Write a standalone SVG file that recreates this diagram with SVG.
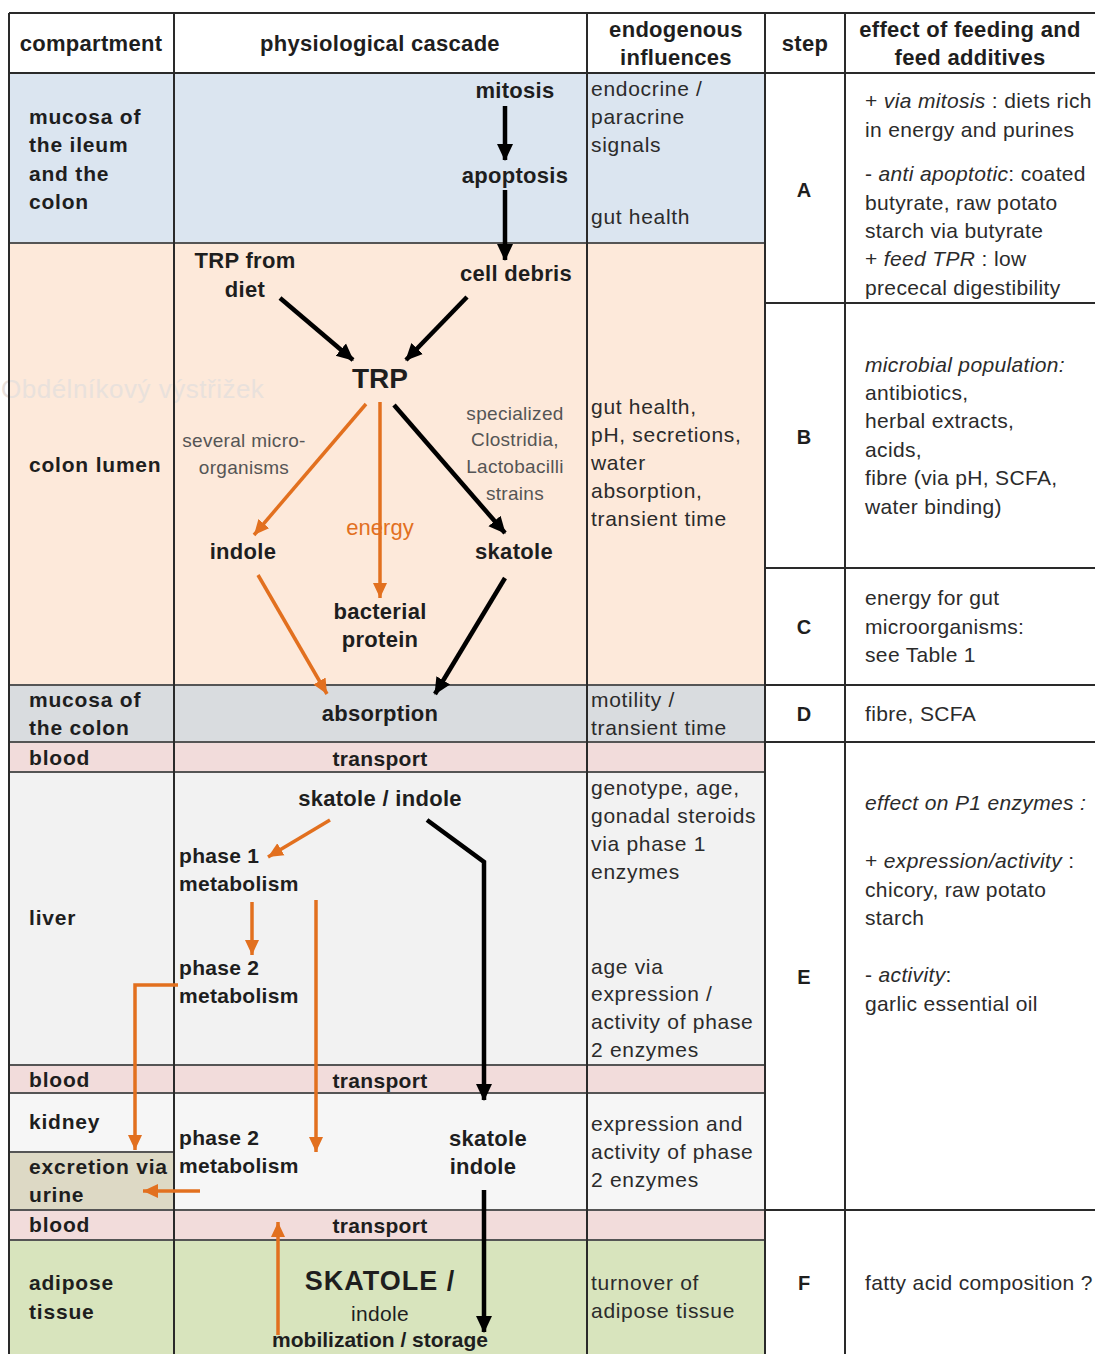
<svg xmlns="http://www.w3.org/2000/svg" width="1095" height="1354" viewBox="0 0 1095 1354">
<defs>
<style>
text{font-family:"Liberation Sans",Arial,sans-serif}
.h{font-size:22px;font-weight:bold;fill:#1e1e1e;letter-spacing:0.3px}
.c{font-size:21px;font-weight:bold;fill:#1e1e1e;letter-spacing:0.8px}
.k{font-size:22px;font-weight:bold;fill:#1e1e1e;text-anchor:middle;letter-spacing:0.3px}
.kl{font-size:21px;font-weight:bold;fill:#1e1e1e;letter-spacing:0.3px}
.g{font-size:19px;fill:#555;text-anchor:middle;letter-spacing:0.3px}
.n{font-size:21px;fill:#2b2b2b;letter-spacing:0.7px}
.f{font-size:21px;fill:#2b2b2b;letter-spacing:0.35px}
.st{font-size:20px;font-weight:bold;fill:#1e1e1e;text-anchor:middle}
.i{font-style:italic}
.grid{stroke:#2a2a2a;stroke-width:2;fill:none}
.hl{stroke:#555;stroke-width:2;fill:none}
.blk{stroke:#000;stroke-width:4.5;fill:none}
.org{stroke:#e2701f;stroke-width:3.5;fill:none}
</style>
<marker id="ab" markerUnits="userSpaceOnUse" markerWidth="18" markerHeight="18" viewBox="0 0 18 18" refX="16" refY="9" orient="auto">
<path d="M0,1 L17,9 L0,17 Z" fill="#000"/>
</marker>
<marker id="ao" markerUnits="userSpaceOnUse" markerWidth="16" markerHeight="16" viewBox="0 0 16 16" refX="15" refY="8" orient="auto">
<path d="M0,1 L15,8 L0,15 Z" fill="#e2701f"/>
</marker>
</defs>
<rect x="0" y="0" width="1095" height="1354" fill="#fff"/>

<g id="cells">
<rect x="9" y="13" width="1086" height="60" fill="#fff"/>
<rect x="9" y="73" width="756" height="170" fill="#dbe5f0"/>
<rect x="9" y="243" width="756" height="442" fill="#fde9da"/>
<rect x="9" y="685" width="756" height="57" fill="#d9dcdf"/>
<rect x="9" y="742" width="756" height="30" fill="#f2dcdb"/>
<rect x="9" y="772" width="756" height="293" fill="#f2f2f2"/>
<rect x="9" y="1065" width="756" height="28" fill="#f2dcdb"/>
<rect x="9" y="1093" width="756" height="117" fill="#f6f6f6"/>
<rect x="9" y="1152" width="165" height="58" fill="#ddd9c5"/>
<rect x="9" y="1210" width="756" height="30" fill="#f2dcdb"/>
<rect x="9" y="1240" width="756" height="114" fill="#d8e4bd"/>
</g>

<text x="1" y="398" font-size="26" fill="#e9e1dc" letter-spacing="0.5">Obdélníkový výstřižek</text>

<g id="grid">
<path class="hl" d="M9,243H765M9,685H765M9,742H765M9,772H765M9,1065H765M9,1093H765M9,1152H174M9,1210H765M9,1240H765"/>
<path class="grid" d="M9,13H1095M9,73H1095M765,303H1095M765,568H1095M765,685H1095M765,742H1095M765,1210H1095"/>
<path class="grid" d="M9,13V1354M174,13V1354M587,13V1354M765,13V1354M845,13V1354"/>
</g>

<g id="header">
<text class="h" x="91" y="51" text-anchor="middle">compartment</text>
<text class="h" x="380" y="51" text-anchor="middle">physiological cascade</text>
<text class="h" x="676" y="37" text-anchor="middle">endogenous</text>
<text class="h" x="676" y="65" text-anchor="middle">influences</text>
<text class="h" x="805" y="51" text-anchor="middle">step</text>
<text class="h" x="970" y="37" text-anchor="middle">effect of feeding and</text>
<text class="h" x="970" y="65" text-anchor="middle">feed additives</text>
</g>

<g id="compartments">
<text class="c" x="29" y="124">mucosa of</text>
<text class="c" x="29" y="152">the ileum</text>
<text class="c" x="29" y="181">and the</text>
<text class="c" x="29" y="209">colon</text>
<text class="c" x="29" y="472">colon lumen</text>
<text class="c" x="29" y="707">mucosa of</text>
<text class="c" x="29" y="735">the colon</text>
<text class="c" x="29" y="765">blood</text>
<text class="c" x="29" y="925">liver</text>
<text class="c" x="29" y="1087">blood</text>
<text class="c" x="29" y="1129">kidney</text>
<text class="c" x="29" y="1174">excretion via</text>
<text class="c" x="29" y="1202">urine</text>
<text class="c" x="29" y="1232">blood</text>
<text class="c" x="29" y="1290">adipose</text>
<text class="c" x="29" y="1319">tissue</text>
</g>

<g id="n-mitosis"><text class="k" x="515" y="98">mitosis</text></g>
<g id="n-apoptosis"><text class="k" x="515" y="183">apoptosis</text></g>
<g id="n-trpdiet"><text class="k" x="245" y="268">TRP from</text><text class="k" x="245" y="297">diet</text></g>
<g id="n-celldebris"><text class="k" x="516" y="281">cell debris</text></g>
<g id="n-trp"><text class="k" x="380" y="388" style="font-size:28px;letter-spacing:0">TRP</text></g>
<g id="n-micro"><text class="g" x="244" y="447">several micro-</text><text class="g" x="244" y="474">organisms</text></g>
<g id="n-clost"><text class="g" x="515" y="420">specialized</text><text class="g" x="515" y="446">Clostridia,</text><text class="g" x="515" y="473">Lactobacilli</text><text class="g" x="515" y="500">strains</text></g>
<g id="n-indole"><text class="k" x="243" y="559">indole</text></g>
<g id="n-skatole"><text class="k" x="514" y="559">skatole</text></g>
<g id="n-bprot"><text class="k" x="380" y="619">bacterial</text><text class="k" x="380" y="647">protein</text></g>
<g id="n-absorption"><text class="k" x="380" y="721">absorption</text></g>
<g id="n-transport1"><text class="k" x="380" y="766" style="font-size:21px">transport</text></g>
<g id="n-skind"><text class="k" x="380" y="806">skatole / indole</text></g>
<g id="n-p1"><text class="kl" x="179" y="863">phase 1</text><text class="kl" x="179" y="891">metabolism</text></g>
<g id="n-p2"><text class="kl" x="179" y="975">phase 2</text><text class="kl" x="179" y="1003">metabolism</text></g>
<g id="n-transport2"><text class="k" x="380" y="1088" style="font-size:21px">transport</text></g>
<g id="n-p2k"><text class="kl" x="179" y="1145">phase 2</text><text class="kl" x="179" y="1173">metabolism</text></g>
<g id="n-skk"><text class="k" x="488" y="1146">skatole</text><text class="k" x="483" y="1174">indole</text></g>
<g id="n-transport3"><text class="k" x="380" y="1233" style="font-size:21px">transport</text></g>
<g id="n-adipose"><text class="k" x="380" y="1290" style="font-size:27px;letter-spacing:1px">SKATOLE /</text><text class="k" x="380" y="1321" style="font-weight:normal;font-size:21px">indole</text><text class="k" x="380" y="1347" style="font-size:21px;letter-spacing:0">mobilization / storage</text></g>

<g id="connectors">
<line class="blk" x1="505" y1="106" x2="505" y2="160" marker-end="url(#ab)"/>
<line class="blk" x1="505" y1="190" x2="505" y2="260" marker-end="url(#ab)"/>
<line class="blk" x1="280" y1="298" x2="353" y2="360" marker-end="url(#ab)"/>
<line class="blk" x1="467" y1="297" x2="406" y2="360" marker-end="url(#ab)"/>
<line class="org" x1="366" y1="404" x2="254" y2="535" marker-end="url(#ao)"/>
<line class="org" x1="380" y1="402" x2="380" y2="598" marker-end="url(#ao)"/>
<line class="blk" x1="394" y1="405" x2="505" y2="533" marker-end="url(#ab)"/>
<line class="org" x1="258" y1="575" x2="327" y2="694" marker-end="url(#ao)"/>
<line class="blk" x1="505" y1="578" x2="435" y2="694" marker-end="url(#ab)"/>
<line class="org" x1="330" y1="820" x2="268" y2="857" marker-end="url(#ao)"/>
<line class="org" x1="252" y1="902" x2="252" y2="955" marker-end="url(#ao)"/>
<polyline class="org" points="178,985 135,985 135,1150" marker-end="url(#ao)"/>
<line class="org" x1="316" y1="900" x2="316" y2="1152" marker-end="url(#ao)"/>
<polyline class="blk" points="427,820 484,862 484,1100" marker-end="url(#ab)"/>
<line class="org" x1="200" y1="1191" x2="143" y2="1191" marker-end="url(#ao)"/>
<line class="blk" x1="484" y1="1190" x2="484" y2="1332" marker-end="url(#ab)"/>
<line class="org" x1="278" y1="1335" x2="278" y2="1222" marker-end="url(#ao)"/>
</g>
<g id="n-energy"><text x="380" y="535" text-anchor="middle" font-size="22" fill="#e2701f">energy</text></g>

<g id="endogenous">
<text class="n" x="591" y="96">endocrine /</text>
<text class="n" x="591" y="124">paracrine</text>
<text class="n" x="591" y="152">signals</text>
<text class="n" x="591" y="224">gut health</text>
<text class="n" x="591" y="414">gut health,</text>
<text class="n" x="591" y="442">pH, secretions,</text>
<text class="n" x="591" y="470">water</text>
<text class="n" x="591" y="498">absorption,</text>
<text class="n" x="591" y="526">transient time</text>
<text class="n" x="591" y="707">motility /</text>
<text class="n" x="591" y="735">transient time</text>
<text class="n" x="591" y="795">genotype, age,</text>
<text class="n" x="591" y="823">gonadal steroids</text>
<text class="n" x="591" y="851">via phase 1</text>
<text class="n" x="591" y="879">enzymes</text>
<text class="n" x="591" y="974">age via</text>
<text class="n" x="591" y="1001">expression /</text>
<text class="n" x="591" y="1029">activity of phase</text>
<text class="n" x="591" y="1057">2 enzymes</text>
<text class="n" x="591" y="1131">expression and</text>
<text class="n" x="591" y="1159">activity of phase</text>
<text class="n" x="591" y="1187">2 enzymes</text>
<text class="n" x="591" y="1290">turnover of</text>
<text class="n" x="591" y="1318">adipose tissue</text>
</g>

<g id="steps">
<text class="st" x="804" y="197">A</text>
<text class="st" x="804" y="444">B</text>
<text class="st" x="804" y="634">C</text>
<text class="st" x="804" y="721">D</text>
<text class="st" x="804" y="984">E</text>
<text class="st" x="804" y="1290">F</text>
</g>

<g id="effects">
<text class="f" x="865" y="108">+ <tspan class="i">via mitosis</tspan> : diets rich</text>
<text class="f" x="865" y="137">in energy and purines</text>
<text class="f" x="865" y="181">- <tspan class="i">anti apoptotic</tspan>: coated</text>
<text class="f" x="865" y="210">butyrate, raw potato</text>
<text class="f" x="865" y="238">starch via butyrate</text>
<text class="f" x="865" y="266">+ <tspan class="i">feed TPR</tspan> : low</text>
<text class="f" x="865" y="295">prececal digestibility</text>
<text class="f i" x="865" y="372">microbial population:</text>
<text class="f" x="865" y="400">antibiotics,</text>
<text class="f" x="865" y="428">herbal extracts,</text>
<text class="f" x="865" y="457">acids,</text>
<text class="f" x="865" y="485">fibre (via pH, SCFA,</text>
<text class="f" x="865" y="514">water binding)</text>
<text class="f" x="865" y="605">energy for gut</text>
<text class="f" x="865" y="634">microorganisms:</text>
<text class="f" x="865" y="662">see Table 1</text>
<text class="f" x="865" y="721">fibre, SCFA</text>
<text class="f i" x="865" y="810">effect on P1 enzymes :</text>
<text class="f" x="865" y="868">+ <tspan class="i">expression/activity</tspan> :</text>
<text class="f" x="865" y="897">chicory, raw potato</text>
<text class="f" x="865" y="925">starch</text>
<text class="f" x="865" y="982">- <tspan class="i">activity</tspan>:</text>
<text class="f" x="865" y="1011">garlic essential oil</text>
<text class="f" x="865" y="1290">fatty acid composition ?</text>
</g>
</svg>
